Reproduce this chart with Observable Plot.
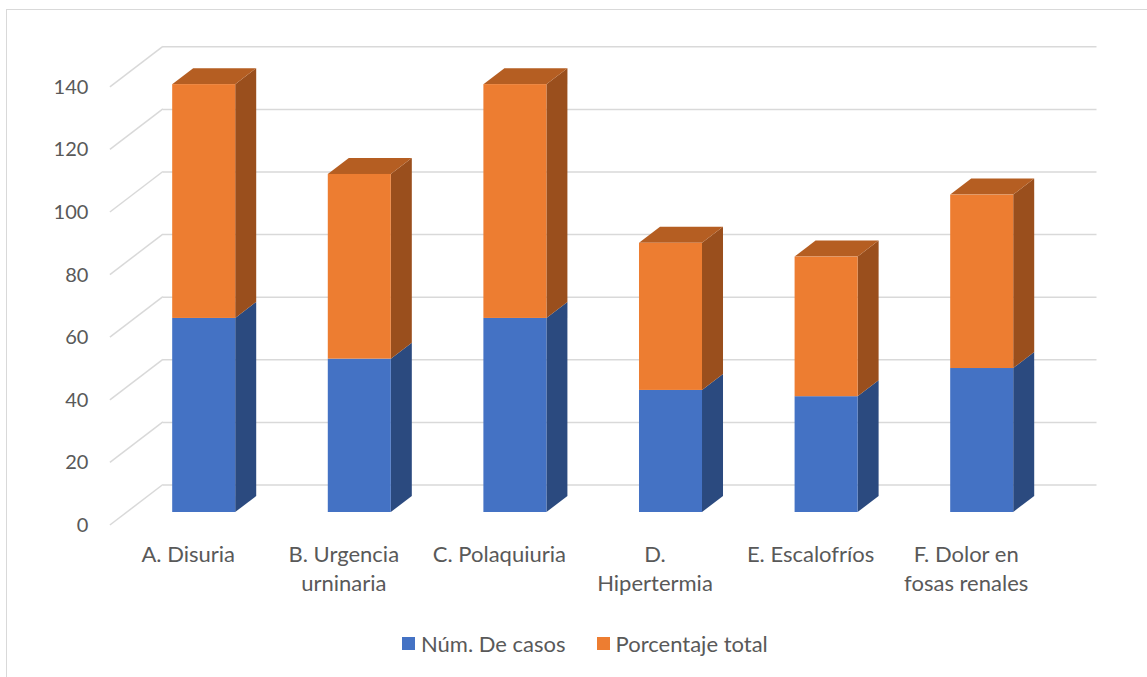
<!DOCTYPE html>
<html>
<head>
<meta charset="utf-8">
<script src="https://cdn.jsdelivr.net/npm/d3@7"></script>
<script src="https://cdn.jsdelivr.net/npm/@observablehq/plot@0.6"></script>
<style>
  html, body { margin: 0; padding: 0; background: #fff; }
  body { width: 1147px; height: 677px; position: relative; overflow: hidden; font-family: Lato, "Open Sans", sans-serif; }
  #frame { position: absolute; left: 6px; top: 9px; width: 1300px; height: 800px;
           border-left: 1.5px solid #d9d9d9; border-top: 1.5px solid #d9d9d9; box-sizing: border-box; }
  #chart { position: absolute; left: 0; top: 0; }
  #legend { position: absolute; left: 402px; top: 630px; display: flex; align-items: center;
            font-size: 22px; color: #595959; white-space: nowrap; }
  .item { display: flex; align-items: center; margin-right: 31px; }
  .sw { width: 13px; height: 13px; margin-right: 6px; }
</style>
</head>
<body>
<div id="frame"></div>
<div id="chart"></div>
<div id="legend"></div>
<script>
// ---- data ----
const categories = ["A. Disuria", "B. Urgencia\nurninaria", "C. Polaquiuria", "D.\nHipertermia", "E. Escalofríos", "F. Dolor en\nfosas renales"];
const casos = [62, 49, 62, 39, 37, 46];
const porcentaje = [74.7, 59.0, 74.7, 47.0, 44.6, 55.4];
const seriesNames = ["Núm. De casos", "Porcentaje total"];
const yTicks = [0, 20, 40, 60, 80, 100, 120, 140];

// ---- style ----
const frontColors = ["#4472C4", "#ED7D31"];
const sideColors = ["#2B4A7F", "#9A4F1D"];
const topColor = "#B55E22";
const gridColor = "#d9d9d9";
const textColor = "#595959";
const HW = 0.2025;            // half bar width (in category steps)
const DX = 21, DY = 16;       // bar depth (px)
const WALL = {dx: 37, dy: -27.5};
const FLOOR = {dx: -16, dy: 13};
const XDOM = [-0.5, categories.length - 0.5];

const rows = categories.flatMap((c, i) => [
  {i, s: 0, name: seriesNames[0], lo: 0, hi: casos[i]},
  {i, s: 1, name: seriesNames[1], lo: casos[i], hi: casos[i] + porcentaje[i]}
]);

function diagonals(index, {x, y}) {
  const g = d3.create("svg:g").attr("stroke", gridColor).attr("stroke-width", 1.5).attr("fill", "none");
  const x0 = x(XDOM[0]);
  for (const t of yTicks) {
    g.append("line")
      .attr("x1", x0 + FLOOR.dx).attr("y1", y(t) + FLOOR.dy)
      .attr("x2", x0 + WALL.dx).attr("y2", y(t) + WALL.dy);
  }
  return g.node();
}

function bars3d(index, {x, y}) {
  const g = d3.create("svg:g");
  for (const r of rows) {
    const xr = x(r.i + HW), y0 = y(r.lo), y1 = y(r.hi);
    g.append("path")
      .attr("d", `M${xr},${y0}L${xr + DX},${y0 - DY}L${xr + DX},${y1 - DY}L${xr},${y1}Z`)
      .attr("fill", sideColors[r.s]);
    if (r.s === 1) {
      const xl = x(r.i - HW);
      g.append("path")
        .attr("d", `M${xl},${y1}L${xr},${y1}L${xr + DX},${y1 - DY}L${xl + DX},${y1 - DY}Z`)
        .attr("fill", topColor);
    }
  }
  return g.node();
}

const chart = Plot.plot({
  width: 1147,
  height: 600,
  marginTop: 73.8,
  marginBottom: 88,
  marginLeft: 125.9,
  marginRight: 87.5,
  x: {type: "linear", domain: XDOM, axis: null},
  y: {domain: [0, 140], axis: null},
  color: {domain: seriesNames, range: frontColors},
  style: {fontFamily: "Lato, 'Open Sans', sans-serif", fontSize: "20px", color: textColor, background: "transparent", overflow: "visible"},
  marks: [
    Plot.ruleY(yTicks, {y: d => d, dx: WALL.dx, dy: WALL.dy, stroke: gridColor, strokeWidth: 1.5}),
    diagonals,
    Plot.text(yTicks, {y: d => d, text: d => String(d), frameAnchor: "left", dx: -38, dy: FLOOR.dy, textAnchor: "end", fill: textColor, fontSize: 20}),
    Plot.text(categories, {x: (d, i) => i, text: d => d, frameAnchor: "bottom", dx: FLOOR.dx, dy: 28, lineAnchor: "top", lineHeight: 1.35, fill: textColor, fontSize: 22}),
    bars3d,
    Plot.rectY(rows, {x1: d => d.i - HW, x2: d => d.i + HW, y1: "lo", y2: "hi", fill: "name"})
  ]
});
document.getElementById("chart").appendChild(chart);

const legend = document.getElementById("legend");
seriesNames.forEach((n, k) => {
  const it = document.createElement("div");
  it.className = "item";
  it.innerHTML = `<span class="sw" style="background:${frontColors[k]}"></span><span>${n}</span>`;
  legend.appendChild(it);
});
</script>
</body>
</html>
